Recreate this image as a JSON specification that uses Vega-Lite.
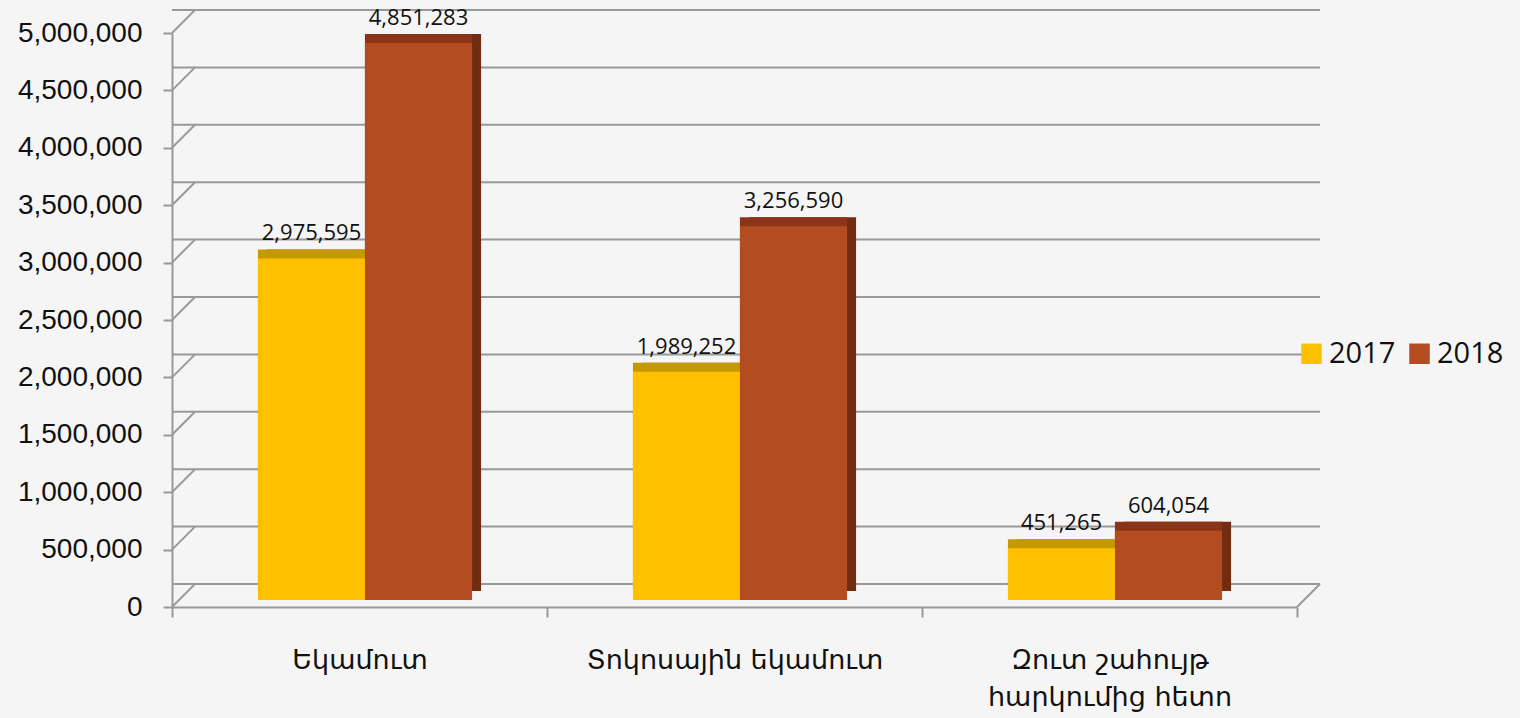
{
  "$schema": "https://vega.github.io/schema/vega-lite/v6.json",
  "width": 1125,
  "height": 574,
  "autosize": {"type": "none"},
  "padding": {"left": 172, "top": 33, "right": 223, "bottom": 111},
  "background": "#F5F5F5",
  "config": {"view": {"stroke": null}, "numberFormat": ","},
  "datasets": {
    "main": [
      {"category": "Եկամուտ", "year": "2017", "value": 2975595},
      {"category": "Եկամուտ", "year": "2018", "value": 4851283},
      {"category": "Տոկոսային եկամուտ", "year": "2017", "value": 1989252},
      {"category": "Տոկոսային եկամուտ", "year": "2018", "value": 3256590},
      {"category": "Զուտ շահույթ հարկումից հետո", "year": "2017", "value": 451265},
      {"category": "Զուտ շահույթ հարկումից հետո", "year": "2018", "value": 604054}
    ],
    "grid": [
      {"v": 0, "edge": "Եկամուտ"}, {"v": 500000, "edge": "Եկամուտ"}, {"v": 1000000, "edge": "Եկամուտ"},
      {"v": 1500000, "edge": "Եկամուտ"}, {"v": 2000000, "edge": "Եկամուտ"}, {"v": 2500000, "edge": "Եկամուտ"},
      {"v": 3000000, "edge": "Եկամուտ"}, {"v": 3500000, "edge": "Եկամուտ"}, {"v": 4000000, "edge": "Եկամուտ"},
      {"v": 4500000, "edge": "Եկամուտ"}, {"v": 5000000, "edge": "Եկամուտ"}
    ],
    "corner": [
      {"v": 0, "edge": "Զուտ շահույթ հարկումից հետո"}
    ]
  },
  "layer": [
    {
      "data": {"name": "grid"},
      "mark": {"type": "rule", "color": "#999999", "strokeWidth": 2, "xOffset": 23, "x2Offset": 23, "yOffset": -23},
      "encoding": {
        "y": {
          "field": "v", "type": "quantitative", "title": null,
          "scale": {"domain": [0, 5000000], "nice": false},
          "axis": {
            "title": null, "format": ",",
            "labelExpr": "format(datum.value, ',')",
            "values": [0, 500000, 1000000, 1500000, 2000000, 2500000, 3000000, 3500000, 4000000, 4500000, 5000000],
            "grid": false,
            "domainColor": "#999999", "domainWidth": 2,
            "tickColor": "#999999", "tickWidth": 2, "tickSize": 9,
            "labelFont": "Liberation Sans", "labelFontSize": 28, "labelColor": "#111111",
            "labelPadding": 21
          }
        }
      }
    },
    {
      "data": {"name": "grid"},
      "mark": {"type": "point", "shape": "M0,0L1,-1", "size": 2116, "filled": false, "stroke": "#999999", "strokeWidth": 2, "opacity": 1},
      "encoding": {
        "x": {
          "field": "edge", "type": "nominal", "sort": null, "bandPosition": 0, "title": null,
          "scale": {"domain": ["Եկամուտ", "Տոկոսային եկամուտ", "Զուտ շահույթ հարկումից հետո"], "paddingInner": 0, "paddingOuter": 0},
          "axis": {
            "title": null,
            "bandPosition": 0.5,
            "labelAngle": 0, "labelAlign": "center", "labelLimit": 500,
            "domainColor": "#999999", "domainWidth": 2,
            "tickColor": "#999999", "tickWidth": 2, "tickSize": 10,
            "tickBand": "extent",
            "labelFont": "DejaVu Sans", "labelFontSize": 27, "labelColor": "#111111",
            "labelPadding": 30, "labelLineHeight": 37,
            "labelExpr": "datum.value == 'Զուտ շահույթ հարկումից հետո' ? ['Զուտ շահույթ', 'հարկումից հետո'] : datum.label"
          }
        },
        "y": {"field": "v", "type": "quantitative", "title": null}
      }
    },
    {
      "data": {"name": "corner"},
      "mark": {"type": "point", "shape": "M0,0L1,-1", "size": 2116, "filled": false, "stroke": "#999999", "strokeWidth": 2, "opacity": 1},
      "encoding": {
        "x": {"field": "edge", "type": "nominal", "sort": null, "bandPosition": 1, "title": null},
        "y": {"field": "v", "type": "quantitative", "title": null}
      }
    },
    {
      "data": {"name": "main"},
      "transform": [{"filter": "datum.year == '2017'"}],
      "mark": {"type": "bar", "width": {"band": 0.2857}, "xOffset": -39, "x2Offset": -39, "yOffset": -16, "y2Offset": -16, "color": "#A67E00"},
      "encoding": {
        "x": {"field": "category", "type": "nominal", "sort": null, "title": null},
        "y": {"field": "value", "type": "quantitative", "title": null}
      }
    },
    {
      "data": {"name": "main"},
      "transform": [{"filter": "datum.year == '2018'"}],
      "mark": {"type": "bar", "width": {"band": 0.2857}, "xOffset": 68, "x2Offset": 68, "yOffset": -16, "y2Offset": -16, "color": "#722C12"},
      "encoding": {
        "x": {"field": "category", "type": "nominal", "sort": null, "title": null},
        "y": {"field": "value", "type": "quantitative", "title": null}
      }
    },
    {
      "data": {"name": "main"},
      "transform": [{"filter": "datum.year == '2017'"}],
      "mark": {"type": "bar", "width": {"band": 0.2857}, "xOffset": -48, "x2Offset": -48, "yOffset": -16, "y2Offset": -16, "color": "#C49A00"},
      "encoding": {
        "x": {"field": "category", "type": "nominal", "sort": null, "title": null},
        "y": {"field": "value", "type": "quantitative", "title": null}
      }
    },
    {
      "data": {"name": "main"},
      "transform": [{"filter": "datum.year == '2018'"}],
      "mark": {"type": "bar", "width": {"band": 0.2857}, "xOffset": 59, "x2Offset": 59, "yOffset": -16, "y2Offset": -16, "color": "#8A3517"},
      "encoding": {
        "x": {"field": "category", "type": "nominal", "sort": null, "title": null},
        "y": {"field": "value", "type": "quantitative", "title": null}
      }
    },
    {
      "data": {"name": "main"},
      "transform": [{"filter": "datum.year == '2017'"}],
      "mark": {"type": "bar", "width": {"band": 0.2857}, "xOffset": -48, "x2Offset": -48, "yOffset": -7, "y2Offset": -7},
      "encoding": {
        "x": {"field": "category", "type": "nominal", "sort": null, "title": null},
        "y": {"field": "value", "type": "quantitative", "title": null},
        "color": {
          "field": "year", "type": "nominal",
          "scale": {"domain": ["2017", "2018"], "range": ["#FFC000", "#B34C20"]},
          "legend": {
            "title": null, "orient": "none", "direction": "horizontal",
            "legendX": 1125, "legendY": 306,
            "symbolType": "square", "symbolSize": 420, "symbolStrokeWidth": 0,
            "labelFont": "Open Sans", "labelFontSize": 29, "labelColor": "#111111",
            "labelOffset": 3, "columnPadding": 9
          }
        }
      }
    },
    {
      "data": {"name": "main"},
      "transform": [{"filter": "datum.year == '2018'"}],
      "mark": {"type": "bar", "width": {"band": 0.2857}, "xOffset": 59, "x2Offset": 59, "yOffset": -7, "y2Offset": -7},
      "encoding": {
        "x": {"field": "category", "type": "nominal", "sort": null, "title": null},
        "y": {"field": "value", "type": "quantitative", "title": null},
        "color": {"field": "year", "type": "nominal"}
      }
    },
    {
      "data": {"name": "main"},
      "transform": [{"filter": "datum.year == '2017'"}],
      "mark": {"type": "text", "baseline": "alphabetic", "align": "center", "xOffset": -48, "yOffset": -25, "font": "Open Sans", "fontSize": 22, "color": "#111111"},
      "encoding": {
        "x": {"field": "category", "type": "nominal", "sort": null, "title": null},
        "y": {"field": "value", "type": "quantitative", "title": null},
        "text": {"field": "value", "type": "quantitative", "format": ","}
      }
    },
    {
      "data": {"name": "main"},
      "transform": [{"filter": "datum.year == '2018'"}],
      "mark": {"type": "text", "baseline": "alphabetic", "align": "center", "xOffset": 59, "yOffset": -25, "font": "Open Sans", "fontSize": 22, "color": "#111111"},
      "encoding": {
        "x": {"field": "category", "type": "nominal", "sort": null, "title": null},
        "y": {"field": "value", "type": "quantitative", "title": null},
        "text": {"field": "value", "type": "quantitative", "format": ","}
      }
    }
  ]
}
